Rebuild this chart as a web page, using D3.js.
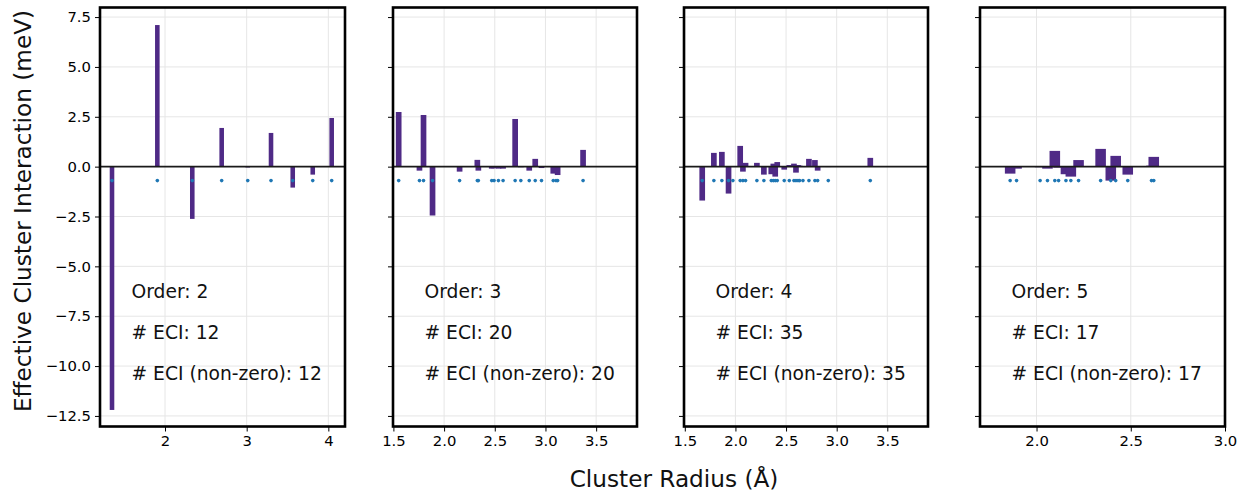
<!DOCTYPE html>
<html>
<head>
<meta charset="utf-8">
<script src="https://cdn.jsdelivr.net/npm/d3@7"></script>
<style>
  body { margin: 0; background: #fff; }
  svg { font-family: "DejaVu Sans", sans-serif; }
</style>
</head>
<body>
<svg id="chart" width="1248" height="496"></svg>
<script>
// ECI values, one pair of arrays per cluster order
const radius2 = [1.351, 1.906, 2.334, 2.694, 3.013, 3.298, 3.564, 3.809, 4.041];
const eci2 = [-12.2, 7.1, -2.62, 1.94, -0.04, 1.69, -1.05, -0.40, 2.44];

const radius3 = [1.552, 1.757, 1.797, 1.886, 2.153, 2.328, 2.338, 2.470, 2.493, 2.536,
                 2.582, 2.701, 2.757, 2.840, 2.899, 2.961, 3.077, 3.104, 3.120, 3.371];
const eci3 = [2.74, -0.2, 2.59, -2.45, -0.25, 0.34, -0.2, -0.1, -0.08, -0.1,
              -0.1, 2.39, -0.03, -0.2, 0.39, -0.07, -0.35, -0.3, -0.42, 0.84];

const radius4 = [1.672, 1.787, 1.866, 1.932, 1.975, 2.047, 2.074, 2.100, 2.212, 2.281,
                 2.354, 2.374, 2.393, 2.413, 2.482, 2.532, 2.578, 2.598, 2.618, 2.634,
                 2.667, 2.726, 2.785, 2.812, 2.917, 3.332];
const eci4 = [-1.70, 0.69, 0.74, -1.35, 0.02, 1.04, -0.25, 0.19, 0.19, -0.4,
              -0.38, 0.15, -0.5, 0.23, -0.15, 0.08, 0.15, -0.3, 0.08, 0.05,
              -0.02, 0.39, 0.33, -0.2, -0.02, 0.44];

const radius5 = [1.860, 1.894, 2.019, 2.058, 2.097, 2.117, 2.156, 2.182, 2.223, 2.340,
                 2.394, 2.420, 2.484, 2.610, 2.622];
const eci5 = [-0.35, -0.1, -0.03, -0.1, 0.79, -0.05, -0.38, -0.5, 0.33, 0.89,
              -0.7, 0.54, -0.4, 0.05, 0.49];

const orders = [2, 3, 4, 5];
const nEci = [12, 20, 35, 17];
const nNonZero = [12, 20, 35, 17];

const yTicks = [7.5, 5.0, 2.5, 0.0, -2.5, -5.0, -7.5, -10.0, -12.5];
const xTicks = [[2, 3, 4], [1.5, 2.0, 2.5, 3.0, 3.5], [1.5, 2.0, 2.5, 3.0, 3.5], [2.0, 2.5, 3.0]];
const xDomains = [[1.204, 4.204], [1.496, 3.903], [1.492, 3.902], [1.70, 3.0]];

const dotLevel = -0.7;   // where the blue markers sit
const barWidth = 0.056;  // bar width in Å

const panels = [
  { radius: radius2, eci: eci2, left: 100, right: 345 },
  { radius: radius3, eci: eci3, left: 393, right: 637 },
  { radius: radius4, eci: eci4, left: 684, right: 928 },
  { radius: radius5, eci: eci5, left: 980, right: 1225 }
];

const plotTop = 7.5, plotBottom = 426.5;
const barColor = "#4f2a86";
const dotColor = "#1f77b4";
const gridColor = "#e6e6e6";
const tickFont = 14.8;

const svg = d3.select("#chart");
const y = d3.scaleLinear().domain([-13.03, 7.98]).range([plotBottom, plotTop]);

panels.forEach((p, i) => {
  const x = d3.scaleLinear().domain(xDomains[i]).range([p.left, p.right]);
  const g = svg.append("g");

  // grid
  g.selectAll(".ygrid").data(yTicks).enter().append("line")
    .attr("x1", p.left).attr("x2", p.right)
    .attr("y1", d => y(d)).attr("y2", d => y(d))
    .attr("stroke", gridColor).attr("stroke-width", 1);
  g.selectAll(".xgrid").data(xTicks[i]).enter().append("line")
    .attr("x1", d => x(d)).attr("x2", d => x(d))
    .attr("y1", plotTop).attr("y2", plotBottom)
    .attr("stroke", gridColor).attr("stroke-width", 1);

  // bars
  const data = p.radius.map((r, k) => ({ r: r, v: p.eci[k] }));
  const halfPx = (x(xDomains[i][0] + barWidth) - x(xDomains[i][0])) / 2;
  g.selectAll(".bar").data(data).enter().append("rect")
    .attr("x", d => x(d.r) - halfPx)
    .attr("width", halfPx * 2)
    .attr("y", d => y(Math.max(0, d.v)))
    .attr("height", d => Math.abs(y(d.v) - y(0)))
    .attr("fill", barColor);

  // zero line
  g.append("line")
    .attr("x1", p.left).attr("x2", p.right)
    .attr("y1", y(0)).attr("y2", y(0))
    .attr("stroke", "#1a1a1a").attr("stroke-width", 1.8);

  // markers
  g.selectAll(".dot").data(data).enter().append("circle")
    .attr("cx", d => x(d.r)).attr("cy", y(dotLevel))
    .attr("r", 1.8).attr("fill", dotColor);

  // axes
  const xAxis = d3.axisBottom(x).tickValues(xTicks[i])
    .tickFormat(i === 0 ? d3.format("d") : d3.format(".1f"))
    .tickSize(5).tickPadding(4);
  const xg = g.append("g").attr("transform", `translate(0,${plotBottom})`).call(xAxis);
  xg.select(".domain").remove();
  xg.selectAll("text").attr("font-size", tickFont).attr("fill", "#000").attr("font-family", "DejaVu Sans");
  xg.selectAll("line").attr("stroke", "#000").attr("stroke-width", 1);

  const yAxis = d3.axisLeft(y).tickValues(yTicks)
    .tickFormat(i === 0 ? d3.format(".1f") : "")
    .tickSize(5).tickPadding(4);
  const yg = g.append("g").attr("transform", `translate(${p.left},0)`).call(yAxis);
  yg.select(".domain").remove();
  yg.selectAll("text").attr("font-size", tickFont).attr("fill", "#000").attr("font-family", "DejaVu Sans");
  yg.selectAll("line").attr("stroke", "#000").attr("stroke-width", 1);

  // frame
  g.append("rect")
    .attr("x", p.left).attr("y", plotTop)
    .attr("width", p.right - p.left).attr("height", plotBottom - plotTop)
    .attr("fill", "none").attr("stroke", "#000").attr("stroke-width", 2.6);

  // annotations
  const lines = [`Order: ${orders[i]}`, `# ECI: ${nEci[i]}`, `# ECI (non-zero): ${nNonZero[i]}`];
  g.selectAll(".note").data(lines).enter().append("text")
    .attr("x", p.left + 31.5)
    .attr("y", (d, k) => 298 + k * 41.2)
    .attr("font-size", 18.7).attr("fill", "#111")
    .text(d => d);
});

svg.append("text")
  .attr("transform", "translate(31,211) rotate(-90)")
  .attr("text-anchor", "middle")
  .attr("font-size", 23.2).attr("fill", "#111")
  .text("Effective Cluster Interaction (meV)");

svg.append("text")
  .attr("x", 674).attr("y", 487)
  .attr("text-anchor", "middle")
  .attr("font-size", 23.2).attr("fill", "#111")
  .text("Cluster Radius (Å)");
</script>
</body>
</html>
